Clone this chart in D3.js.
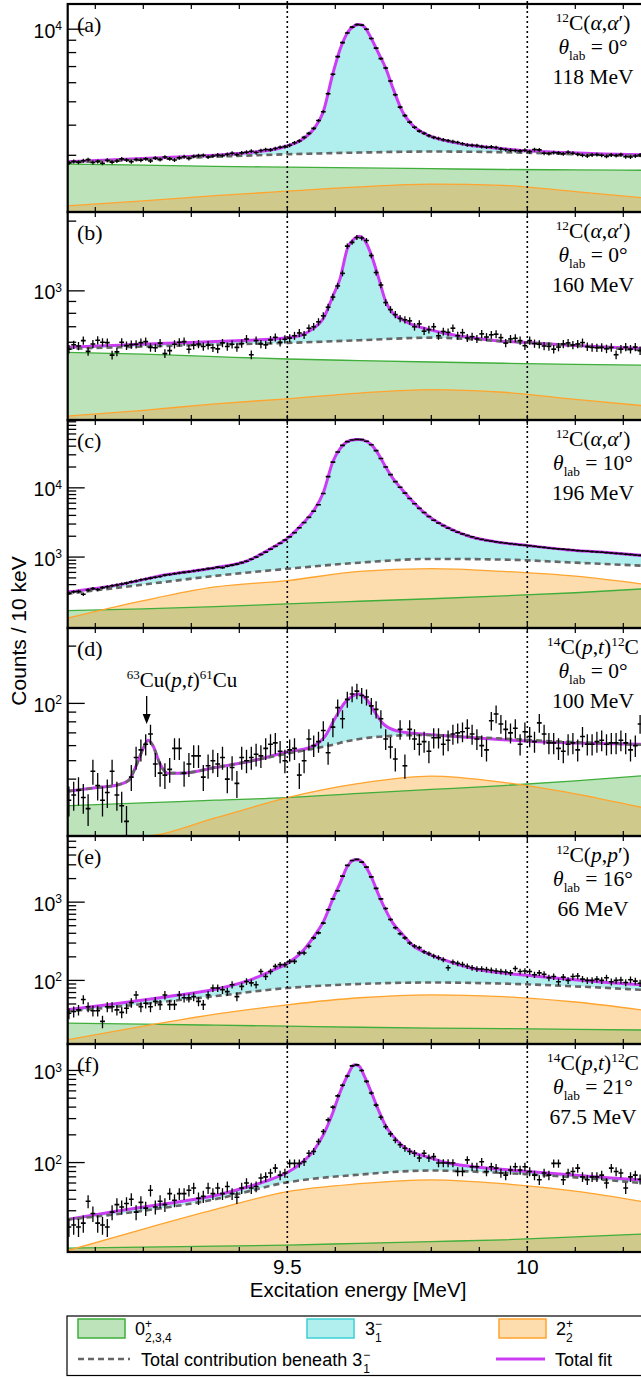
<!DOCTYPE html>
<html>
<head>
<meta charset="utf-8">
<title>12C 3- state spectra</title>
<script src="https://cdn.jsdelivr.net/npm/d3@7"></script>
<style>
  body { margin: 0; background: #fff; }
  svg { display: block; }
</style>
</head>
<body>
<svg id="chart" width="641" height="1377"></svg>
<script>
//Data//
//Excitation energy axis [MeV]
var xDomain = [9.0425, 10.2525];
//Histogram bins: centre of first bin and bin width (10 keV)
var binStart = 9.045, binWidth = 0.01;

//Energies at which the fit curves are tabulated
var fitGrid = [9.04, 9.15, 9.25, 9.35, 9.42, 9.47, 9.5, 9.53, 9.555, 9.575, 9.595, 9.61, 9.625, 9.64, 9.65,
  9.66, 9.675, 9.69, 9.705, 9.72, 9.74, 9.76, 9.79, 9.83, 9.88, 9.94, 10.0, 10.08, 10.16, 10.25];
//Panel (d) has the 63Cu contaminant peak, so its own grid
var fitGridD = [9.04, 9.1, 9.15, 9.17, 9.185, 9.2, 9.21, 9.22, 9.235, 9.25, 9.28, 9.35, 9.42, 9.5, 9.55,
  9.58, 9.6, 9.62, 9.635, 9.65, 9.665, 9.68, 9.7, 9.73, 9.78, 9.85, 9.95, 10.05, 10.15, 10.25];
//Energies for the broad components
var compGrid = [9.04, 9.2, 9.35, 9.5, 9.65, 9.8, 9.95, 10.1, 10.25];

//y-axis ranges (counts) and labelled decades
var yRanges = [[1746, 12720], [277, 2190], [94.5, 95500], [20.1, 249], [15.4, 7000], [10.7, 1936]];
var yLabels = [[1e4], [1e3], [1e4, 1e3], [1e2], [1e3, 1e2], [1e3, 1e2]];

//(a) 12C(a,a') 0 deg 118 MeV
var countsA = [2790,2830,2810,2850,2880,2800,2830,2780,2860,2810,
  2840,2900,2870,2820,2880,2860,2900,2840,2920,2880,
  2950,2900,2870,2930,2960,2910,2970,2990,3000,2950,
  2980,3010,2990,3030,3060,3020,3070,3090,3120,3080,
  3140,3170,3160,3200,3240,3260,3300,3380,3440,3560,
  3700,3880,4180,4550,5400,6500,7700,8800,9650,10200,
  10450,10400,10000,9150,8350,7550,6900,6100,5350,4750,
  4380,4120,3920,3780,3700,3620,3560,3520,3480,3450,
  3420,3390,3350,3310,3300,3290,3260,3240,3250,3230,
  3190,3170,3150,3140,3130,3150,3110,3170,3160,3060,
  3050,3080,3070,3040,3090,3060,3030,3000,2980,3010,
  3020,3000,2970,3010,2990,3020,2960,2950,2980,3010,
  3040];
var fitA = [2820,2880,2940,3000,3080,3170,3280,3480,3850,4550,6550,8250,9650,10330,10450,
  10250,9150,7950,6900,5700,4550,4020,3660,3450,3300,3210,3130,3080,3040,3010];
var bgA = [2800,2880,2960,3030,3080,3110,3090,3030,2980];
var greenA = [2760,2730,2700,2680,2660,2640,2620,2610,2600];
var orangeA = [1850,1940,2040,2130,2220,2280,2250,2120,1990];

//(b) 12C(a,a') 0 deg 160 MeV
var countsB = [560,585,578,610,548,590,612,600,598,528,
  545,600,580,586,588,598,604,570,568,595,
  536,552,588,600,604,560,583,590,575,583,
  568,562,596,575,588,570,592,620,530,610,
  590,585,614,630,600,618,625,640,658,645,
  690,700,735,780,850,940,1050,1190,1560,1620,
  1700,1690,1650,1420,1200,1060,890,830,790,760,
  750,742,700,720,670,680,700,640,668,662,
  690,640,660,626,634,620,652,632,646,650,
  628,595,620,624,610,580,610,592,588,578,
  576,560,572,590,596,584,590,598,574,570,
  568,570,562,570,530,560,572,560,572,552,
  560];
var fitB = [571,583,594,604,612,620,628,645,690,760,950,1130,1520,1680,1720,
  1670,1430,1140,900,800,750,715,685,655,630,608,598,584,572,562];
var bgB = [562,575,586,596,612,628,606,580,552];
var greenB = [543,533,520,508,500,493,487,482,478];
var orangeB = [288,305,325,342,362,375,365,340,318];

//(c) 12C(a,a') 10 deg 196 MeV
var countsC = [300,315,320,290,335,350,340,362,372,385,
  395,408,420,438,452,470,482,496,512,525,
  548,560,575,590,602,615,630,645,660,680,
  690,715,705,740,765,790,830,870,930,1000,
  1090,1180,1300,1430,1580,1760,1960,2250,2650,3150,
  3750,4600,5700,8300,14500,23500,33000,41000,46500,49200,
  50200,49800,47000,42000,34500,26500,20000,15500,12300,10200,
  8400,7000,5900,5050,4400,3850,3400,3100,2850,2620,
  2440,2290,2160,2050,1960,1860,1800,1740,1700,1660,
  1620,1590,1560,1530,1500,1480,1460,1430,1400,1380,
  1350,1330,1310,1300,1280,1260,1240,1230,1215,1200,
  1185,1175,1160,1145,1130,1120,1100,1090,1070,1060,
  1050];
var fitC = [311,400,560,700,900,1380,1860,2950,4700,8500,24000,37000,46500,49500,50100,
  48400,42000,30500,20000,13700,9300,6500,4100,2750,1980,1640,1470,1280,1170,1040];
var bgC = [294,400,535,677,830,940,920,830,745];
var greenC = [168,178,192,211,230,250,275,305,350];
var orangeC = [130,235,370,458,620,680,620,530,400];

//(d) 14C(p,t)12C 0 deg 100 MeV
var countsD = [31,33,35,32,28,44,37,31,34,44,
  33,29,24,41,52,57,61,69,48,43,
  42,45,58,58,43,48,53,53,41,47,
  50,48,52,40,46,38,52,50,52,54,
  53,58,61,62,56,50,57,58,42,50,
  65,60,63,72,55,75,95,83,105,112,
  116,110,108,97,93,83,65,59,51,73,
  47,73,65,61,63,56,66,66,61,64,
  69,70,71,74,69,65,60,57,81,88,
  78,73,70,74,61,71,67,63,79,69,
  62,62,58,56,61,62,57,67,61,61,
  63,64,61,62,62,64,62,57,60,78,
  62];
var fitD = [34.5,36,37.5,39.5,47,58,64,60,48,43,43,46,49.5,55.5,59,
  68,84,101,109,112,105,92,78,71.5,69,67,64.5,62.5,61.5,61];
var bgD = [34.5,36,37.5,39.5,47,58,64,60,48,43,43,46,49.5,54.5,57.5,
  59.5,61,63,64,65,65.8,66.5,67,67.8,68.2,67.2,65.3,63.3,61.8,60.5];
var greenD = [29,30,31,32,33.7,35.3,37,39.2,41.8];
var orangeD = [10,18,25,32,38,41.5,38.5,33.5,28];

//(e) 12C(p,p') 16 deg 66 MeV
var countsE = [38,40,42,57,46,41,41,30,46,46,
  42,39,44,52,65,46,51,46,54,49,
  65,49,49,65,60,60,62,54,49,65,
  80,80,76,72,88,62,84,97,93,88,
  130,112,130,151,159,159,175,175,224,224,
  273,349,405,540,800,1100,1400,2150,2950,3400,
  3520,3250,2800,2100,1500,1100,830,600,470,395,
  350,300,275,262,232,220,205,195,184,145,
  172,165,160,152,145,140,140,138,135,132,
  130,128,125,142,130,132,130,118,125,120,
  108,112,96,110,100,112,114,104,100,100,
  104,100,108,96,100,101,94,102,98,92,
  90];
var fitE = [42,51,62,77,100,135,165,230,360,560,1100,1750,2850,3480,3450,
  3050,2100,1250,790,540,390,285,224,180,145,126,116,104,95,87];
var bgE = [40,50,63,80,90,94,91,84,75];
var greenE = [28.4,27.6,26.8,26,25.2,24.6,24.2,23.7,23.2];
var orangeE = [17.3,26,37,48.8,60,65.5,62,53,41];

//(f) 14C(p,t)12C 21 deg 67.5 MeV
var countsF = [20,21,20,22,38,28,22,21,20,29,
  35,33,36,40,29,37,32,50,33,38,
  35,46,39,46,46,50,53,41,43,53,
  46,53,46,55,46,42,53,60,53,55,
  68,70,77,87,73,77,98,98,98,102,
  126,132,169,217,291,400,530,690,870,1120,
  1150,1000,760,570,420,310,245,205,175,156,
  143,132,126,112,126,112,116,99,99,99,
  99,80,80,107,90,90,102,80,90,87,
  77,73,83,90,83,90,80,73,65,77,
  73,98,98,65,77,80,87,70,65,70,
  70,73,60,87,80,77,53,70,73,66,
  64];
var fitF = [24,30,36,44,55,67,78,100,135,200,350,580,870,1150,1110,
  880,580,370,250,195,152,130,116,100,91,85,80,74,69,64];
var bgF = [24,30,40,61,74,82,77,69,59];
var greenF = [11.8,12.1,12.4,12.7,13.3,13.9,14.5,15.6,16.8];
var orangeF = [11,19,31,48.4,59,65,59,49,37];

//Panel labels and reaction texts
var panelLabels = ["(a)", "(b)", "(c)", "(d)", "(e)", "(f)"];
var reactAA = [["12","sup"],["C("],["\u03b1","it"],[","],["\u03b1","it"],["\u2032)"]];
var reactPT = [["14","sup"],["C("],["p","it"],[","],["t","it"],[")"],["12","sup"],["C"]];
var reactPP = [["12","sup"],["C("],["p","it"],[","],["p","it"],["\u2032)"]];
var angles = ["0\u00b0", "0\u00b0", "10\u00b0", "0\u00b0", "16\u00b0", "21\u00b0"];
var beams = ["118 MeV", "160 MeV", "196 MeV", "100 MeV", "66 MeV", "67.5 MeV"];
var reactions = [reactAA, reactAA, reactAA, reactPT, reactPP, reactPT];

//Layout//
var plotL = 67.7, plotR = 648.5, panelTop = 4, panelH = 208;
var sans = "'Liberation Sans', Arial, Helvetica, sans-serif";
var serif = "'Liberation Serif', 'Times New Roman', Times, serif";
var col = {
  green: "#bde3bb", greenLine: "#3fae3a",
  orange: "#fddcae", orangeLine: "#ffa42e",
  olive: "#cfca8b", cyan: "#b1eeee", cyanLine: "#3ccfd4",
  fit: "#cc3cf5", bg: "#666666"
};

var panels = [
  {counts: countsA, fitX: fitGrid, fit: fitA, bgX: compGrid, bg: bgA, green: greenA, orange: orangeA},
  {counts: countsB, fitX: fitGrid, fit: fitB, bgX: compGrid, bg: bgB, green: greenB, orange: orangeB},
  {counts: countsC, fitX: fitGrid, fit: fitC, bgX: compGrid, bg: bgC, green: greenC, orange: orangeC},
  {counts: countsD, fitX: fitGridD, fit: fitD, bgX: fitGridD, bg: bgD, green: greenD, orange: orangeD},
  {counts: countsE, fitX: fitGrid, fit: fitE, bgX: compGrid, bg: bgE, green: greenE, orange: orangeE},
  {counts: countsF, fitX: fitGrid, fit: fitF, bgX: compGrid, bg: bgF, green: greenF, orange: orangeF}
];

//Text with sub/superscripts and italics, parts = [[text, style], ...]
function addRich(textSel, parts, size) {
  var cur = 0;
  parts.forEach(function(p) {
    var off = 0, fs = size;
    if (p[1] === "sup") { off = -0.38 * size; fs = 0.62 * size; }
    if (p[1] === "sub") { off = 0.3 * size; fs = 0.62 * size; }
    var t = textSel.append("tspan").attr("dy", off - cur).attr("font-size", fs).text(p[0]);
    if (p[1] === "it") t.attr("font-style", "italic");
    cur = off;
  });
}

var svg = d3.select("#chart");
var defs = svg.append("defs");
var x = d3.scaleLinear().domain(xDomain).range([plotL, plotR]);

panels.forEach(function(p, i) {
  var top = panelTop + i * panelH, bot = top + panelH;
  var y = d3.scaleLog().domain(yRanges[i]).range([bot, top]).clamp(true);
  var g = svg.append("g");

  defs.append("clipPath").attr("id", "frame" + i).append("rect")
    .attr("x", plotL).attr("y", top).attr("width", plotR - plotL).attr("height", panelH);

  //y ticks (drawn first, fills cover them)
  var yt = y.ticks();
  g.selectAll(".ytick").data(yt).enter().append("line")
    .attr("x1", plotL)
    .attr("x2", function(d) { return plotL + (Math.abs(Math.log10(d) % 1) < 1e-6 ? 17 : 8.5); })
    .attr("y1", function(d) { return y(d); }).attr("y2", function(d) { return y(d); })
    .attr("stroke", "#000").attr("stroke-width", 1.3);

  var content = g.append("g").attr("clip-path", "url(#frame" + i + ")");
  var pair = function(xs, vs) { return xs.map(function(e, k) { return [e, vs[k]]; }); };
  var fitPts = pair(p.fitX, p.fit), bgPts = pair(p.bgX, p.bg);
  var greenPts = pair(compGrid, p.green), orangePts = pair(compGrid, p.orange);

  var area = d3.area().x(function(d) { return x(d[0]); }).y0(bot)
    .y1(function(d) { return y(d[1]); }).curve(d3.curveMonotoneX);
  var line = d3.line().x(function(d) { return x(d[0]); })
    .y(function(d) { return y(d[1]); }).curve(d3.curveMonotoneX);

  //3- contribution: fill under the total fit, then blank out below the background
  content.append("path").attr("d", area(fitPts)).attr("fill", col.cyan);
  content.append("path").attr("d", area(bgPts)).attr("fill", "#fff");
  //0+ and 2+ components, overlap drawn in olive
  content.append("path").attr("d", area(greenPts)).attr("fill", col.green);
  content.append("path").attr("d", area(orangePts)).attr("fill", col.orange);
  defs.append("clipPath").attr("id", "gclip" + i).append("path").attr("d", area(greenPts));
  content.append("g").attr("clip-path", "url(#gclip" + i + ")")
    .append("path").attr("d", area(orangePts)).attr("fill", col.olive);

  content.append("path").attr("d", line(greenPts)).attr("fill", "none")
    .attr("stroke", col.greenLine).attr("stroke-width", 1.3);
  content.append("path").attr("d", line(orangePts)).attr("fill", "none")
    .attr("stroke", col.orangeLine).attr("stroke-width", 1.3);
  content.append("path").attr("d", line(fitPts)).attr("fill", "none")
    .attr("stroke", col.fit).attr("stroke-width", 3);
  content.append("path").attr("d", line(bgPts)).attr("fill", "none")
    .attr("stroke", col.bg).attr("stroke-width", 2.6).attr("stroke-dasharray", "6,4");

  //data points with Poisson errors
  var pts = p.counts.map(function(c, k) { return {e: binStart + k * binWidth, c: c}; });
  var pg = content.append("g").attr("stroke", "#000");
  pg.selectAll(".ev").data(pts).enter().append("line")
    .attr("x1", function(d) { return x(d.e); }).attr("x2", function(d) { return x(d.e); })
    .attr("y1", function(d) { return y(d.c + Math.sqrt(d.c)); })
    .attr("y2", function(d) { return y(d.c - Math.sqrt(d.c)); })
    .attr("stroke-width", 1.3);
  pg.selectAll(".eh").data(pts).enter().append("line")
    .attr("x1", function(d) { return x(d.e - binWidth / 2); })
    .attr("x2", function(d) { return x(d.e + binWidth / 2); })
    .attr("y1", function(d) { return y(d.c); }).attr("y2", function(d) { return y(d.c); })
    .attr("stroke-width", 1.6);

  //x ticks on bottom and top of each panel
  var xt = x.ticks(12);
  g.selectAll(".xb").data(xt).enter().append("line")
    .attr("x1", function(d) { return x(d); }).attr("x2", function(d) { return x(d); })
    .attr("y1", bot).attr("y2", bot - 5).attr("stroke", "#000").attr("stroke-width", 1.2);
  g.selectAll(".xt").data(xt).enter().append("line")
    .attr("x1", function(d) { return x(d); }).attr("x2", function(d) { return x(d); })
    .attr("y1", top).attr("y2", top + 5).attr("stroke", "#000").attr("stroke-width", 1.2);

  //frame
  g.append("rect").attr("x", plotL).attr("y", top).attr("width", plotR - plotL).attr("height", panelH)
    .attr("fill", "none").attr("stroke", "#000").attr("stroke-width", 2.2);

  //y tick labels 10^n
  yLabels[i].forEach(function(v) {
    var t = g.append("text").attr("x", 62).attr("y", y(v) + 8.5)
      .attr("text-anchor", "end").attr("font-family", sans).attr("font-size", 19.5);
    addRich(t, [["10"], [String(Math.round(Math.log10(v))), "sup"]], 19.5);
  });

  //panel label and reaction text
  g.append("text").attr("x", 77).attr("y", top + 28).attr("font-family", serif)
    .attr("font-size", 22).text(panelLabels[i]);
  var t1 = g.append("text").attr("x", 593).attr("y", top + 26).attr("text-anchor", "middle")
    .attr("font-family", serif).attr("font-size", 21.5);
  addRich(t1, reactions[i], 21.5);
  var t2 = g.append("text").attr("x", 593).attr("y", top + 50).attr("text-anchor", "middle")
    .attr("font-family", serif).attr("font-size", 21.5);
  addRich(t2, [["\u03b8", "it"], ["lab", "sub"], [" = " + angles[i]]], 21.5);
  g.append("text").attr("x", 593).attr("y", top + 80).attr("text-anchor", "middle")
    .attr("font-family", serif).attr("font-size", 21.5).text(beams[i]);

  //contaminant annotation in (d)
  if (i === 3) {
    var ax = x(9.207), tip = y(78);
    g.append("line").attr("x1", ax).attr("x2", ax).attr("y1", tip - 28).attr("y2", tip - 8)
      .attr("stroke", "#000").attr("stroke-width", 1.3);
    g.append("path").attr("d", "M" + ax + "," + tip + "L" + (ax - 4) + "," + (tip - 10) + "L" + (ax + 4) + "," + (tip - 10) + "Z")
      .attr("fill", "#000");
    var ta = g.append("text").attr("x", 182).attr("y", tip - 37).attr("text-anchor", "middle")
      .attr("font-family", serif).attr("font-size", 21);
    addRich(ta, [["63", "sup"], ["Cu("], ["p", "it"], [","], ["t", "it"], [")"], ["61", "sup"], ["Cu"]], 21);
  }
});

//dotted markers at 9.5 and 10 MeV across all panels
[9.5, 10].forEach(function(v) {
  svg.append("line").attr("x1", x(v)).attr("x2", x(v)).attr("y1", 1).attr("y2", panelTop + 6 * panelH)
    .attr("stroke", "#000").attr("stroke-width", 1.6).attr("stroke-dasharray", "2,3");
});

//x axis labels
var yAxisBase = panelTop + 6 * panelH;
[9.5, 10].forEach(function(v) {
  svg.append("text").attr("x", x(v)).attr("y", yAxisBase + 22).attr("text-anchor", "middle")
    .attr("font-family", sans).attr("font-size", 20.5).text(String(v));
});
svg.append("text").attr("x", (plotL + plotR) / 2).attr("y", yAxisBase + 45).attr("text-anchor", "middle")
  .attr("font-family", sans).attr("font-size", 20.5).text("Excitation energy [MeV]");
svg.append("text").attr("transform", "translate(25.5,631) rotate(-90)").attr("text-anchor", "middle")
  .attr("font-family", sans).attr("font-size", 21).text("Counts / 10 keV");

//Legend
var leg = svg.append("g").attr("font-family", sans);
leg.append("rect").attr("x", 67).attr("y", 1316).attr("width", 600).attr("height", 59.5)
  .attr("fill", "#fff").attr("stroke", "#000").attr("stroke-width", 1.2);
var swatches = [
  {x: 78, fill: col.green, stroke: col.greenLine, main: "0", sup: "+", sub: "2,3,4", tx: 135},
  {x: 307, fill: col.cyan, stroke: col.cyanLine, main: "3", sup: "\u2212", sub: "1", tx: 365},
  {x: 499, fill: col.orange, stroke: col.orangeLine, main: "2", sup: "+", sub: "2", tx: 556}
];
swatches.forEach(function(s) {
  leg.append("rect").attr("x", s.x).attr("y", 1319).attr("width", 47).attr("height", 19)
    .attr("fill", s.fill).attr("stroke", s.stroke).attr("stroke-width", 1.5);
  leg.append("text").attr("x", s.tx).attr("y", 1335).attr("font-size", 18).text(s.main);
  leg.append("text").attr("x", s.tx + 10).attr("y", 1328).attr("font-size", 12).text(s.sup);
  leg.append("text").attr("x", s.tx + 10).attr("y", 1342).attr("font-size", 12).text(s.sub);
});
leg.append("line").attr("x1", 78).attr("x2", 130).attr("y1", 1359).attr("y2", 1359)
  .attr("stroke", col.bg).attr("stroke-width", 2.6).attr("stroke-dasharray", "6,4");
var tc = leg.append("text").attr("x", 141).attr("y", 1366).attr("font-size", 18)
  .text("Total contribution beneath 3");
var tcEnd = 141 + tc.node().getComputedTextLength() + 1;
leg.append("text").attr("x", tcEnd).attr("y", 1359).attr("font-size", 12).text("\u2212");
leg.append("text").attr("x", tcEnd).attr("y", 1373).attr("font-size", 12).text("1");
leg.append("line").attr("x1", 496).attr("x2", 545).attr("y1", 1359).attr("y2", 1359)
  .attr("stroke", col.fit).attr("stroke-width", 3);
leg.append("text").attr("x", 555).attr("y", 1366).attr("font-size", 18).text("Total fit");
</script>
</body>
</html>
